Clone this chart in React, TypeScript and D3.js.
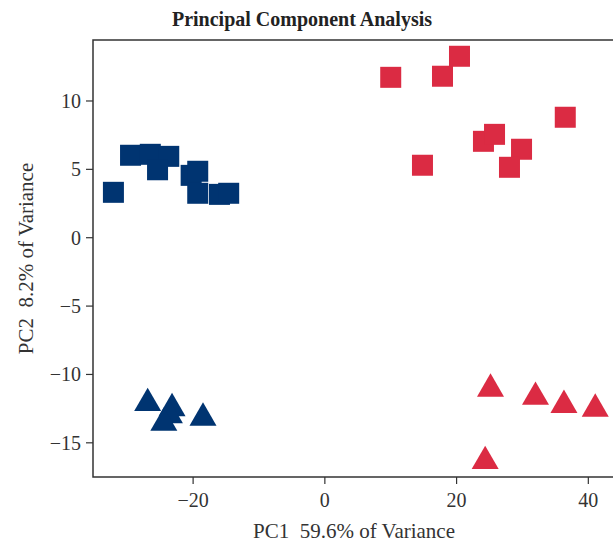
import React from 'react';
import * as d3 from 'd3';

// PC scores
const groupASquaresX = [-32.1, -29.5, -26.5, -23.7, -25.4, -20.3, -19.3, -19.3, -16.0, -14.6];
const groupASquaresY = [3.32, 6.03, 6.1, 5.95, 4.97, 4.56, 4.86, 3.25, 3.17, 3.25];
const groupBSquaresX = [10.0, 17.86, 20.44, 36.5, 24.08, 25.76, 29.86, 28.03, 14.82];
const groupBSquaresY = [11.73, 11.81, 13.27, 8.81, 7.05, 7.56, 6.47, 5.15, 5.3];
const groupATrianglesX = [-26.9, -23.2, -23.6, -24.45, -18.5];
const groupATrianglesY = [-12.11, -12.48, -13.0, -13.55, -13.18];
const groupBTrianglesX = [25.15, 31.98, 36.3, 41.05, 24.34];
const groupBTrianglesY = [-11.06, -11.65, -12.25, -12.52, -16.35];

const xTicks = [-20, 0, 20, 40];
const yTicks = [-15, -10, -5, 0, 5, 10];

const BLUE = '#003471';
const RED = '#DB2B43';
const FONT = '"Liberation Serif", "DejaVu Serif", serif';

const W = 613;
const H = 543;
const left = 93;
const right = 615;
const top = 40;
const bottom = 477;

const App: React.FC = () => {
  const x = d3.scaleLinear().domain([-35.2, 44.05]).range([left, right]);
  const y = d3.scaleLinear().domain([-17.5, 14.46]).range([bottom, top]);
  const tri = d3.symbol().type(d3.symbolTriangle).size(316);
  const fmt = d3.format('d');
  const sq = 21;

  const squares = (xs: number[], ys: number[], color: string) =>
    xs.map((v, i) => (
      <rect key={i} x={x(v) - sq / 2} y={y(ys[i]) - sq / 2} width={sq} height={sq} fill={color} />
    ));
  const triangles = (xs: number[], ys: number[], color: string) =>
    xs.map((v, i) => (
      <path key={i} d={tri() || ''} transform={`translate(${x(v)},${y(ys[i])})`} fill={color} />
    ));

  return (
    <svg width={W} height={H} style={{ position: 'absolute', left: 0, top: 0, background: '#fff' }}>
      <text x={302} y={26} textAnchor="middle" fontFamily={FONT} fontWeight="bold" fontSize={20} fill="#222">
        Principal Component Analysis
      </text>

      {/* frame */}
      <path d={`M${right},${top}H${left}V${bottom}H${right}`} fill="none" stroke="#333" strokeWidth={1.5} />

      {xTicks.map((t) => (
        <g key={t} transform={`translate(${x(t)},${bottom})`}>
          <line y2={7} stroke="#333" strokeWidth={1.2} />
          <text y={30} textAnchor="middle" fontFamily={FONT} fontSize={20} fill="#333">
            {fmt(t)}
          </text>
        </g>
      ))}
      {yTicks.map((t) => (
        <g key={t} transform={`translate(${left},${y(t)})`}>
          <line x2={-7} stroke="#333" strokeWidth={1.2} />
          <text x={-12} dy="0.34em" textAnchor="end" fontFamily={FONT} fontSize={20} fill="#333">
            {fmt(t)}
          </text>
        </g>
      ))}

      <text x={354} y={538} textAnchor="middle" fontFamily={FONT} fontSize={21} fill="#333" xmlSpace="preserve">
        PC1  59.6% of Variance
      </text>
      <text
        transform={`translate(33,${(top + bottom) / 2}) rotate(-90)`}
        textAnchor="middle"
        fontFamily={FONT}
        fontSize={21}
        fill="#333"
        xmlSpace="preserve"
      >
        PC2  8.2% of Variance
      </text>

      {squares(groupASquaresX, groupASquaresY, BLUE)}
      {squares(groupBSquaresX, groupBSquaresY, RED)}
      {triangles(groupATrianglesX, groupATrianglesY, BLUE)}
      {triangles(groupBTrianglesX, groupBTrianglesY, RED)}
    </svg>
  );
};

export default App;
